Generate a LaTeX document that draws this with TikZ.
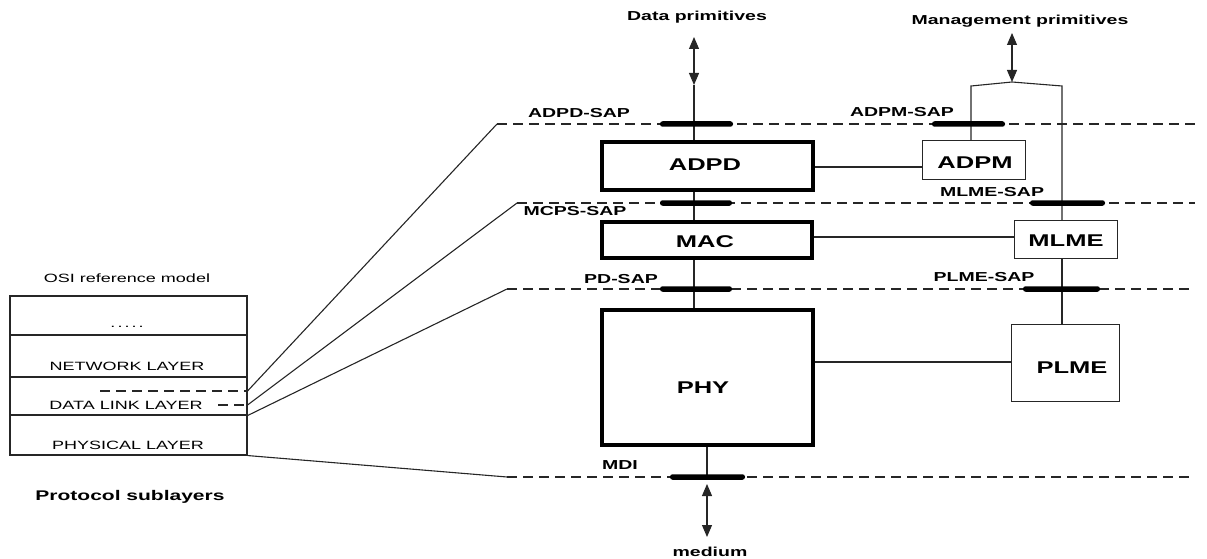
\documentclass[tikz,border=0pt]{standalone}
\usepackage{fontspec}
\setmainfont{Liberation Sans}[FakeStretch=1.5]
\usetikzlibrary{arrows.meta,calc}
\begin{document}
\begin{tikzpicture}[x=1pt,y=-1pt,
  link/.style={draw=black!85, line width=1.1pt},
  layerline/.style={draw=black!85, line width=1.1pt, dash pattern=on 10pt off 6pt},
  bidir/.style={draw=black!85, line width=1.1pt,
    {Triangle[length=12pt,width=10pt]}-{Triangle[length=12pt,width=10pt]}},
  bigbox/.style={draw=black, line width=4pt, inner sep=0pt},
  smallbox/.style={draw=black!85, line width=1.4pt, inner sep=0pt,
    font=\bfseries\fontsize{17}{20}\selectfont},
  boxtext/.style={inner sep=0pt, font=\bfseries\fontsize{17}{20}\selectfont},
  sapbar/.style={fill=black, draw=none, rounded corners=2.5pt,
    minimum height=5.5pt, inner sep=0pt},
  saplabel/.style={inner sep=0pt, font=\bfseries\fontsize{13}{15}\selectfont},
  osicell/.style={draw=black!85, line width=1.1pt, minimum width=237pt, inner sep=0pt},
  ositext/.style={inner sep=0pt, font=\fontsize{12}{14}\selectfont},
]
\useasboundingbox (0,0) rectangle (1207,559);

% ---------- OSI reference model stack ----------
\node[ositext] (osititle) at (127,278) {OSI reference model};
\node[osicell, minimum height=39pt] (cell1) at (128.5,315.5) {};
\node[osicell, minimum height=42pt] (cell2) at (128.5,356) {};
\node[osicell, minimum height=38pt] (cell3) at (128.5,396) {};
\node[osicell, minimum height=40pt] (cell4) at (128.5,435) {};
\node[ositext] (dots) at (127,327) {.\,.\,.\,.\,.};
\node[ositext] (netl) at (127,366) {NETWORK LAYER};
\node[ositext] (dll) at (126,405) {DATA LINK LAYER};
\node[ositext] (phl) at (128,445) {PHYSICAL LAYER};
\node[inner sep=0pt, font=\bfseries\fontsize{14}{16}\selectfont] (proto) at (130,497) {Protocol sublayers};

\coordinate (dlA) at (100,391);
\coordinate (dlB) at (218,405);
\draw[layerline] (dlA) -- (cell3.east |- dlA);
\draw[layerline] (dlB) -- (cell3.east |- dlB);

% ---------- sublayer boundaries ----------
\coordinate (l1) at (497,124);
\coordinate (l2) at (517,203);
\coordinate (l3) at (507,289);
\coordinate (l4) at (507,477);
\coordinate (rend) at (1195,0);

\draw[link] (cell3.east |- dlA) -- (l1);
\draw[link] (cell3.east |- dlB) -- (l2);
\draw[link] (cell3.south east) -- (l3);
\draw[link] (cell4.south east) -- (l4);

\draw[layerline] (l1) -- (rend |- l1);
\draw[layerline] (l2) -- (rend |- l2);
\draw[layerline] (l3) -- (rend |- l3);
\draw[layerline] (l4) -- (rend |- l4);

% ---------- main entities ----------
\node[bigbox, minimum width=211pt, minimum height=48pt] (adpd) at (707.5,166) {};
\node[boxtext] at (705,165) {ADPD};
\node[bigbox, minimum width=210pt, minimum height=36pt] (mac) at (707,240) {};
\node[boxtext] at (705,242) {MAC};
\node[bigbox, minimum width=211pt, minimum height=135pt] (phy) at (707.5,377.5) {};
\node[boxtext] at (703,388) {PHY};

% ---------- management entities ----------
\node[smallbox, minimum width=102.6pt, minimum height=38.6pt] (adpm) at (974,160) {};
\node[boxtext] at (975,163) {ADPM};
\node[smallbox, minimum width=102.6pt, minimum height=37.6pt] (mlme) at (1066,239.5) {};
\node[boxtext] at (1066,241) {MLME};
\node[smallbox, minimum width=107.6pt, minimum height=76.6pt] (plme) at (1065.5,363) {};
\node[boxtext] at (1072,368) {PLME};

% ---------- data path ----------
\coordinate (dtop) at (694,37);
\coordinate (dmid) at (694,85);
\node[saplabel] (dprim) at (697,17) {Data primitives};
\draw[bidir] (dtop) -- (dmid);
\draw[link] (dmid) -- (adpd.north -| dmid);
\draw[link] (adpd.south -| dmid) -- (mac.north -| dmid);
\draw[link] (mac.south -| dmid) -- (phy.north -| dmid);

\coordinate (mx) at (707,0);
\coordinate (medtop) at (707,484);
\coordinate (medbot) at (707,537);
\draw[link] (phy.south -| mx) -- (mx |- l4);
\draw[bidir] (medtop) -- (medbot);
\node[saplabel] (medium) at (710,552) {medium};

% ---------- management path ----------
\coordinate (mtop) at (1012,33);
\coordinate (mfork) at (1012,82);
\coordinate (fl) at (971,86);
\coordinate (fr) at (1062,86);
\node[saplabel] (mprim) at (1020,21) {Management primitives};
\draw[bidir] (mtop) -- (mfork);
\draw[link] (adpm.north -| fl) -- (fl) -- (mfork) -- (fr) -- (mlme.north -| fr);
\draw[link] (mlme.south -| fr) -- (plme.north -| fr);

% ---------- entity couplings ----------
\draw[link] (adpd.east |- 0,167) -- (adpm.west |- 0,167);
\draw[link] (mac.east |- 0,237) -- (mlme.west |- 0,237);
\draw[link] (phy.east |- 0,362) -- (plme.west |- 0,362);

% ---------- service access points ----------
\node[sapbar, minimum width=73pt] (adpdsap) at (696.5,124) {};
\node[sapbar, minimum width=72pt] (mcpssap) at (696,203) {};
\node[sapbar, minimum width=72pt] (pdsap) at (696,289) {};
\node[sapbar, minimum width=75pt] (mdisap) at (707.5,477) {};
\node[sapbar, minimum width=73pt] (adpmsap) at (968.5,124) {};
\node[sapbar, minimum width=75pt] (mlmesap) at (1067.5,203) {};
\node[sapbar, minimum width=77pt] (plmesap) at (1061.5,289) {};

\node[saplabel] at (579,113) {ADPD-SAP};
\node[saplabel] at (575,211) {MCPS-SAP};
\node[saplabel] at (621,279) {PD-SAP};
\node[saplabel] at (620,465) {MDI};
\node[saplabel] at (902,112) {ADPM-SAP};
\node[saplabel] at (992,192) {MLME-SAP};
\node[saplabel] at (984,277) {PLME-SAP};
\end{tikzpicture}
\end{document}
